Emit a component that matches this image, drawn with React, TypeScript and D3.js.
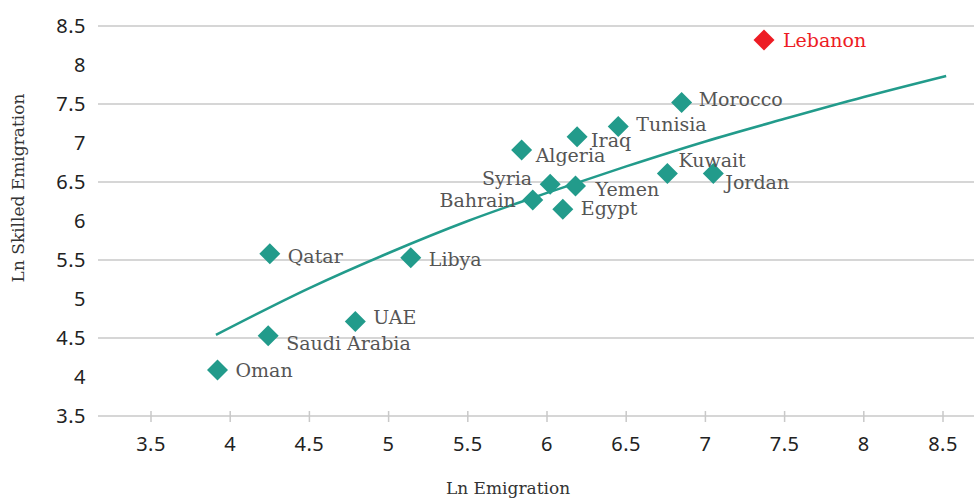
import React, { useEffect, useRef } from 'react';
import * as d3 from 'd3';

// Country data
const countries = ['Oman', 'Saudi Arabia', 'Qatar', 'UAE', 'Libya', 'Bahrain', 'Syria', 'Yemen', 'Egypt', 'Algeria', 'Iraq', 'Tunisia', 'Morocco', 'Kuwait', 'Jordan', 'Lebanon'];
const lnEmigration = [3.92, 4.24, 4.25, 4.79, 5.14, 5.91, 6.02, 6.18, 6.10, 5.84, 6.19, 6.45, 6.85, 6.76, 7.05, 7.37];
const lnSkilled = [4.09, 4.53, 5.58, 4.71, 5.53, 6.27, 6.47, 6.45, 6.15, 6.91, 7.08, 7.21, 7.52, 6.61, 6.61, 8.32];
const highlighted = ['Lebanon'];

// Trend curve
const trendX = [3.91, 4.5, 5, 5.5, 6, 6.5, 7, 7.5, 8, 8.52];
const trendY = [4.54, 5.14, 5.59, 6.0, 6.36, 6.7, 7.02, 7.31, 7.59, 7.86];

const xTicks = [3.5, 4, 4.5, 5, 5.5, 6, 6.5, 7, 7.5, 8, 8.5];
const yTicks = [3.5, 4, 4.5, 5, 5.5, 6, 6.5, 7, 7.5, 8, 8.5];
const yGrid = [3.5, 4.5, 5.5, 6.5, 7.5, 8.5];

// label placement: [dx, dy, anchor]
const labelPos = {
  'Oman': [18, 0, 'start'],
  'Saudi Arabia': [18, 8, 'start'],
  'Qatar': [18, 3, 'start'],
  'UAE': [18, -4, 'start'],
  'Libya': [18, 2, 'start'],
  'Bahrain': [-17, 0, 'end'],
  'Syria': [-18, -6, 'end'],
  'Yemen': [20, 3, 'start'],
  'Egypt': [18, -1, 'start'],
  'Algeria': [14, 5, 'start'],
  'Iraq': [14, 4, 'start'],
  'Tunisia': [18, -2, 'start'],
  'Morocco': [17, -3, 'start'],
  'Kuwait': [11, -13, 'start'],
  'Jordan': [12, 9, 'start'],
  'Lebanon': [19, 0, 'start'],
};

const App = () => {
  const ref = useRef(null);
  const width = 974;
  const height = 499;

  useEffect(() => {
    const svg = d3.select(ref.current);
    svg.selectAll('*').remove();

    const left = 98;
    const right = 974;

    const x = d3.scaleLinear().domain([3.5, 8.5]).range([151, 943]);
    const y = d3.scaleLinear().domain([3.5, 8.5]).range([416, 26]);

    const teal = '#229b8b';
    const red = '#ed1c24';
    const tickFont = '"Noto Sans", sans-serif';
    const serif = '"DejaVu Serif", serif';

    // horizontal grid lines
    svg.append('g')
      .selectAll('line')
      .data(yGrid)
      .enter()
      .append('line')
      .attr('x1', left)
      .attr('x2', right)
      .attr('y1', d => y(d))
      .attr('y2', d => y(d))
      .attr('stroke', '#c9c9c9')
      .attr('stroke-width', 1.5);

    // x tick marks
    svg.append('g')
      .selectAll('line')
      .data(xTicks)
      .enter()
      .append('line')
      .attr('x1', d => x(d))
      .attr('x2', d => x(d))
      .attr('y1', y(3.5) - 5)
      .attr('y2', y(3.5) + 6)
      .attr('stroke', '#c9c9c9')
      .attr('stroke-width', 1.5);

    // x tick labels
    svg.append('g')
      .selectAll('text')
      .data(xTicks)
      .enter()
      .append('text')
      .attr('x', d => x(d))
      .attr('y', 451)
      .attr('text-anchor', 'middle')
      .style('font-family', tickFont)
      .style('font-size', '20px')
      .style('letter-spacing', '0.5px')
      .style('fill', '#222')
      .text(d => String(d));

    // y tick labels
    svg.append('g')
      .selectAll('text')
      .data(yTicks)
      .enter()
      .append('text')
      .attr('x', 86)
      .attr('y', d => y(d))
      .attr('dy', '0.35em')
      .attr('text-anchor', 'end')
      .style('font-family', tickFont)
      .style('font-size', '20px')
      .style('letter-spacing', '0.5px')
      .style('fill', '#222')
      .text(d => String(d));

    // axis titles
    svg.append('text')
      .attr('x', 508)
      .attr('y', 494)
      .attr('text-anchor', 'middle')
      .style('font-family', serif)
      .style('font-size', '17px')
      .style('fill', '#333')
      .text('Ln Emigration');

    svg.append('text')
      .attr('transform', 'rotate(-90)')
      .attr('x', -188)
      .attr('y', 24)
      .attr('text-anchor', 'middle')
      .style('font-family', serif)
      .style('font-size', '17px')
      .style('fill', '#333')
      .text('Ln Skilled Emigration');

    // trend line
    const trend = trendX.map((v, i) => [v, trendY[i]]);
    svg.append('path')
      .datum(trend)
      .attr('fill', 'none')
      .attr('stroke', teal)
      .attr('stroke-width', 2.5)
      .attr('d', d3.line().x(d => x(d[0])).y(d => y(d[1])).curve(d3.curveMonotoneX));

    const points = countries.map((c, i) => ({ name: c, x: lnEmigration[i], y: lnSkilled[i] }));
    const r = 10.5;
    const diamond = `M0,${-r}L${r},0L0,${r}L${-r},0Z`;

    // diamonds
    svg.append('g')
      .selectAll('path')
      .data(points)
      .enter()
      .append('path')
      .attr('transform', d => `translate(${x(d.x)},${y(d.y)})`)
      .attr('d', diamond)
      .attr('fill', d => highlighted.includes(d.name) ? red : teal);

    // labels
    svg.append('g')
      .selectAll('text')
      .data(points)
      .enter()
      .append('text')
      .attr('x', d => x(d.x) + labelPos[d.name][0])
      .attr('y', d => y(d.y) + labelPos[d.name][1])
      .attr('dy', '0.35em')
      .attr('text-anchor', d => labelPos[d.name][2])
      .style('font-family', serif)
      .style('font-size', '19px')
      .style('fill', d => highlighted.includes(d.name) ? red : '#555')
      .text(d => d.name);
  }, []);

  return (
    <svg
      ref={ref}
      width={width}
      height={height}
      viewBox={`0 0 ${width} ${height}`}
      style={{ position: 'absolute', left: 0, top: 0, background: '#fff' }}
    />
  );
};

export default App;
